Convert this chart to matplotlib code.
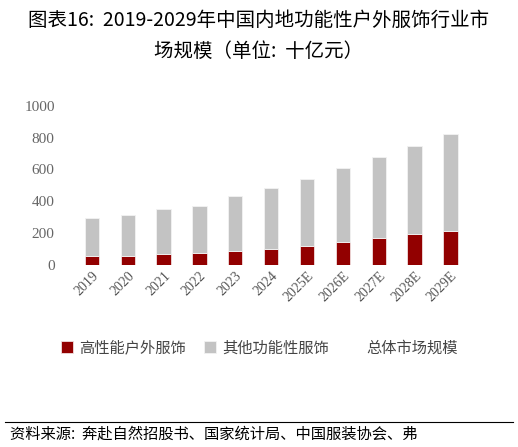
import matplotlib
matplotlib.use("Agg")
import matplotlib.pyplot as plt
import numpy as np

plt.rcParams['font.family'] = ['Noto Sans CJK SC', 'DejaVu Sans']

years = ["2019", "2020", "2021", "2022", "2023", "2024", "2025E", "2026E", "2027E", "2028E", "2029E"]
outdoor = [53, 57, 66, 72, 85, 99, 120, 142, 167, 190, 211]
total = [296, 311, 353, 368, 433, 482, 541, 611, 681, 748, 822]
other = [t - o for t, o in zip(total, outdoor)]

fig = plt.figure(figsize=(5.18, 4.47), dpi=100)
ax = fig.add_axes([0.115, 0.408, 0.81, 0.355])
x = np.arange(len(years))
w = 0.4
b1 = ax.bar(x, outdoor, w, color="#920000", edgecolor="#f0dede", linewidth=0.6, label="高性能户外服饰")
b2 = ax.bar(x, other, w, bottom=outdoor, color="#c3c3c3", edgecolor="#f2f2f2", linewidth=0.6, label="其他功能性服饰")
l3, = ax.plot([], [], color="none", label="总体市场规模")
ax.set_ylim(0, 1000)
ax.set_yticks(range(0, 1001, 200))
ax.set_xlim(-0.9, 10.8)
ax.set_xticks(x)
ax.set_xticklabels(years, rotation=45, ha="right", rotation_mode="anchor", fontsize=10, color="#555555", family=["Liberation Serif"])
for lab in ax.get_yticklabels():
    lab.set_family(["Liberation Serif"])
ax.tick_params(axis="y", labelsize=11, colors="#666666", length=0)
ax.tick_params(axis="x", length=0)
for s in ax.spines.values():
    s.set_visible(False)

fig.text(0.5, 0.955, "图表16:  2019-2029年中国内地功能性户外服饰行业市", ha="center", va="center", fontsize=14)
fig.text(0.5, 0.885, "场规模（单位:  十亿元）", ha="center", va="center", fontsize=14)
fig.legend(handles=[b1, b2, l3], loc="center", bbox_to_anchor=(0.5, 0.222), ncol=3, frameon=False, fontsize=11,
           handlelength=0.8, handleheight=0.8, columnspacing=1.2, handletextpad=0.4, labelcolor="#444444")
fig.add_artist(plt.Line2D([0.01, 0.99], [0.057, 0.057], color="black", lw=0.8))
fig.text(0.02, 0.028, "资料来源:  奔赴自然招股书、国家统计局、中国服装协会、弗", ha="left", va="center",
         fontsize=11, style="italic")
fig.savefig("out.png", dpi=100)
